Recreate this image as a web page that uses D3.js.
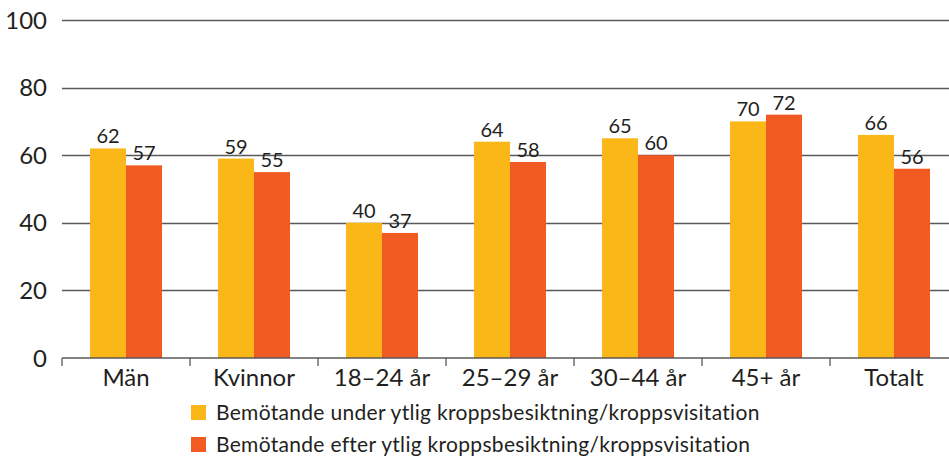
<!DOCTYPE html>
<html>
<head>
<meta charset="utf-8">
<script src="https://cdn.jsdelivr.net/npm/d3@7"></script>
<style>
  body { margin: 0; background: #fff; }
  text { font-family: Lato, "DejaVu Sans", sans-serif; fill: #231f20; }
</style>
</head>
<body>
<div id="chart"></div>
<script>
var categories = ['Män', 'Kvinnor', '18–24 år', '25–29 år', '30–44 år', '45+ år', 'Totalt'];
var seriesNames = [
  'Bemötande under ytlig kroppsbesiktning/kroppsvisitation',
  'Bemötande efter ytlig kroppsbesiktning/kroppsvisitation'
];
var underValues = [62, 59, 40, 64, 65, 70, 66];
var efterValues = [57, 55, 37, 58, 60, 72, 56];
var yTicks = [0, 20, 40, 60, 80, 100];
var colors = ['#fbb717', '#f15a22'];

var width = 949, height = 459;
var margin = {top: 20, left: 62, bottom: 101};

var svg = d3.select('#chart')
  .append('svg')
    .attr('width', width)
    .attr('height', height);

// scales
var x_scale = d3.scaleBand()
  .domain(categories)
  .range([margin.left, margin.left + 7 * 128])
  .paddingInner(0)
  .paddingOuter(0);

var y_scale = d3.scaleLinear()
  .domain([0, 100])
  .range([height - margin.bottom, margin.top]);

var inner = d3.scaleBand()
  .domain([0, 1])
  .range([28, 100]);

// gridlines
svg.append('g')
  .selectAll('line')
  .data(yTicks.slice(1))
  .enter()
  .append('line')
    .attr('x1', margin.left)
    .attr('x2', width)
    .attr('y1', function(d) { return Math.round(y_scale(d)) + 0.5; })
    .attr('y2', function(d) { return Math.round(y_scale(d)) + 0.5; })
    .attr('stroke', '#5a5a5a')
    .attr('stroke-width', 1.3);

// y labels
svg.append('g')
  .selectAll('text')
  .data(yTicks)
  .enter()
  .append('text')
    .attr('x', 47)
    .attr('y', function(d) { return y_scale(d); })
    .attr('dy', '0.36em')
    .attr('text-anchor', 'end')
    .style('font-size', '24px')
    .text(function(d) { return d; });

// bars
var data = categories.map(function(c, i) {
  return {cat: c, vals: [underValues[i], efterValues[i]]};
});

var groups = svg.append('g')
  .selectAll('g')
  .data(data)
  .enter()
  .append('g')
    .attr('transform', function(d) { return 'translate(' + x_scale(d.cat) + ',0)'; });

groups.selectAll('rect')
  .data(function(d) { return d.vals; })
  .enter()
  .append('rect')
    .attr('x', function(d, i) { return inner(i); })
    .attr('width', inner.bandwidth())
    .attr('y', function(d) { return y_scale(d); })
    .attr('height', function(d) { return y_scale(0) - y_scale(d); })
    .attr('fill', function(d, i) { return colors[i]; });

groups.selectAll('text')
  .data(function(d) { return d.vals; })
  .enter()
  .append('text')
    .attr('x', function(d, i) { return inner(i) + inner.bandwidth() / 2; })
    .attr('y', function(d) { return y_scale(d) - 5; })
    .attr('text-anchor', 'middle')
    .style('font-size', '20px')
    .text(function(d) { return d; });

// x axis
var xg = svg.append('g')
  .attr('transform', 'translate(0,' + y_scale(0) + ')');
xg.append('line')
  .attr('x1', margin.left)
  .attr('x2', width)
  .attr('stroke', '#5a5a5a')
  .attr('stroke-width', 1.5);
xg.selectAll('.tick-mark')
  .data(categories)
  .enter()
  .append('line')
    .attr('x1', function(d) { return x_scale(d); })
    .attr('x2', function(d) { return x_scale(d); })
    .attr('y1', 0)
    .attr('y2', 8)
    .attr('stroke', '#5a5a5a')
    .attr('stroke-width', 1.3);
xg.selectAll('.cat-label')
  .data(categories)
  .enter()
  .append('text')
    .attr('x', function(d) { return x_scale(d) + x_scale.bandwidth() / 2; })
    .attr('y', 28)
    .attr('text-anchor', 'middle')
    .style('font-size', '24px')
    .text(function(d) { return d; });

// legend
var legend = svg.append('g')
  .selectAll('g')
  .data(seriesNames)
  .enter()
  .append('g')
    .attr('transform', function(d, i) { return 'translate(191,' + (405 + i * 32) + ')'; });
legend.append('rect')
  .attr('width', 15)
  .attr('height', 15)
  .attr('fill', function(d, i) { return colors[i]; });
legend.append('text')
  .attr('x', 25)
  .attr('y', 15)
  .style('font-size', '21px')
  .style('letter-spacing', '0.3px')
  .text(function(d) { return d; });
</script>
</body>
</html>
